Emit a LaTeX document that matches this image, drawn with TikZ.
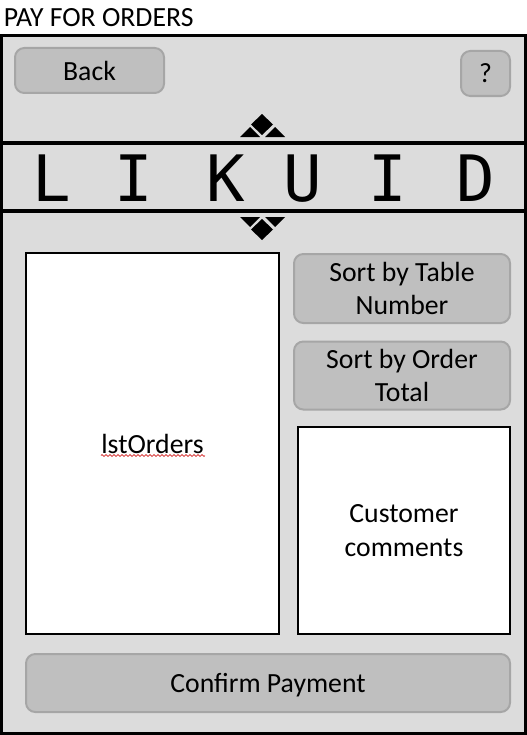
\documentclass[tikz,border=0pt]{standalone}
\usepackage{fontspec}
\setmainfont{Carlito}
\newfontfamily\logofont{DejaVu Sans Mono}
\usetikzlibrary{decorations.pathmorphing}
\definecolor{panelgrey}{HTML}{DCDCDC}
\definecolor{buttongrey}{HTML}{BFBFBF}
\definecolor{buttonedge}{HTML}{A6A6A6}
\begin{document}
\begin{tikzpicture}[x=0.75pt,y=-0.75pt]
    \tikzstyle{button}=[draw=buttonedge,fill=buttongrey,line width=1.5pt,rounded corners=7pt,inner sep=0pt,align=center,font=\fontsize{20.8}{25}\selectfont]
    \tikzstyle{listbox}=[draw=black,fill=white,line width=1.5pt,inner sep=0pt,align=center,font=\fontsize{20.8}{25}\selectfont]
    \tikzstyle{rule}=[line width=2.4pt]
    \tikzstyle{logo letter}=[font=\logofont\fontsize{48}{48}\selectfont,inner sep=0pt]
    \useasboundingbox (0,0) rectangle (527,735);

    % Page caption and panel
    \node[anchor=west,inner sep=0pt,font=\fontsize{20.8}{24}\selectfont] (caption) at (3.5,17.5) {PAY FOR ORDERS};
    \draw[line width=2.4pt,fill=panelgrey] (1.5,35.5) rectangle (525.5,733.5);

    % Top buttons
    \node[button,minimum width=149pt*0.75,minimum height=45pt*0.75] (back) at (89.5,70.5) {Back};
    \node[button,minimum width=49pt*0.75,minimum height=45pt*0.75] (help) at (485.5,73.5) {?};

    % Logo band
    \coordinate (bandTL) at (1.5,143);
    \coordinate (bandTR) at (525.5,143);
    \coordinate (bandBL) at (1.5,211);
    \coordinate (bandBR) at (525.5,211);
    \draw[rule] (bandTL) -- (bandTR);
    \draw[rule] (bandBL) -- (bandBR);
    \foreach \name/\x/\letter in {1/52/L,2/134/I,3/226/K,4/303/U,5/388/I,6/475.5/D}
        \node[logo letter] (logo-\name) at (\x,178.5) {\letter};

    % Ornaments above and below the band
    \fill (262,114) -- (273,124.5) -- (262,135) -- (251,124.5) -- cycle;
    \fill (250,127) -- (260,137) -- (240,137) -- cycle;
    \fill (275,127) -- (285,137) -- (265,137) -- cycle;
    \fill (262,219) -- (273,229.5) -- (262,240) -- (251,229.5) -- cycle;
    \fill (250,227) -- (260,217) -- (240,217) -- cycle;
    \fill (275,227) -- (285,217) -- (265,217) -- cycle;

    % Order list and the buttons beside it
    \node[listbox,minimum width=253pt*0.75,minimum height=381pt*0.75] (orders) at (152.5,443.5) {lstOrders};
    \node[button,minimum width=216pt*0.75,minimum height=69pt*0.75] (sortTable) at (402,288.5) {Sort by Table\\Number};
    \node[button,minimum width=216pt*0.75,minimum height=68pt*0.75] (sortTotal) at (402,375.5) {Sort by Order\\Total};
    \node[listbox,minimum width=212pt*0.75,minimum height=207pt*0.75] (comments) at (404,530.5) {Customer\\comments};
    \node[button,minimum width=484pt*0.75,minimum height=58pt*0.75,text depth=0pt] (confirm) at (268,683) {Confirm Payment};

    % Spelling mark under the list name
    \coordinate (markL) at (101,455.5);
    \coordinate (markR) at (205,455.5);
    \draw[red!80!black,line width=0.5pt,decorate,decoration={zigzag,segment length=3pt,amplitude=0.7pt}] (markL) -- (markR);
\end{tikzpicture}
\end{document}
